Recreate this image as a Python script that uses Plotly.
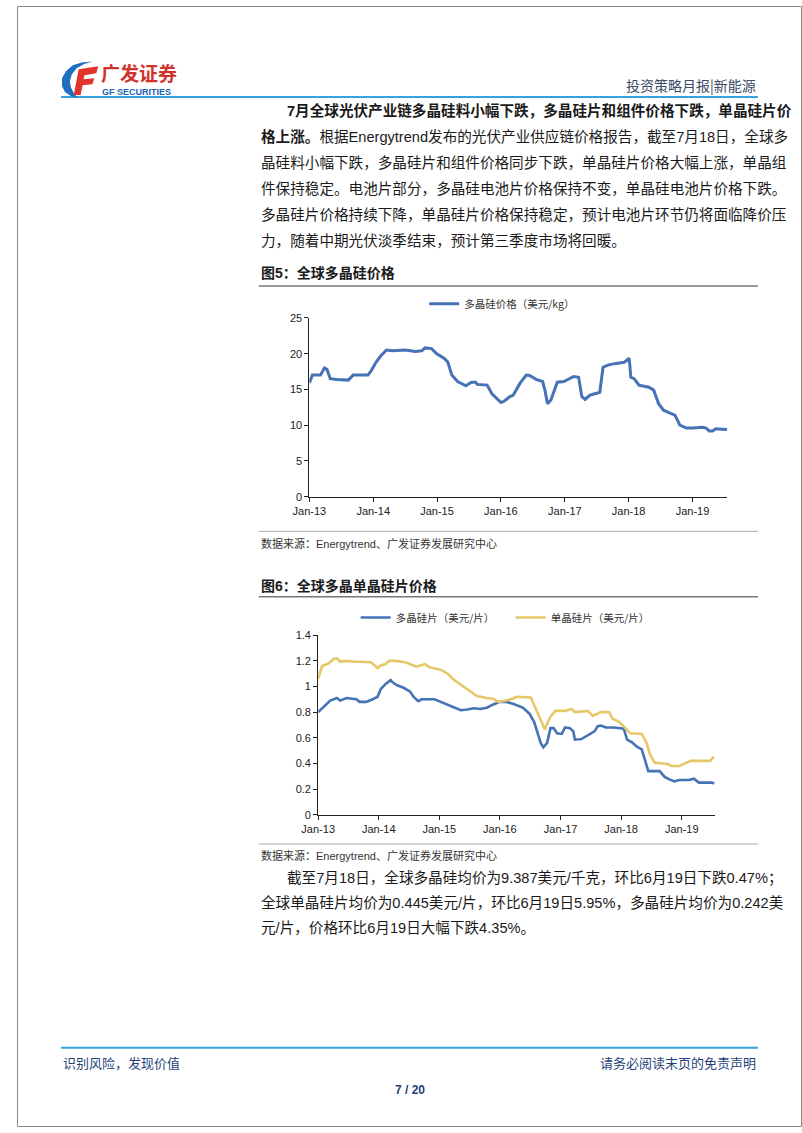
import plotly.graph_objects as go
import pandas as pd

W, H = 802, 1133


def X(p):
    return p / W


def Y(p):
    return 1 - p / H


FONT = "Arial, 'Liberation Sans', 'Noto Sans CJK SC', sans-serif"
CJK = "'Noto Sans CJK SC', Arial, sans-serif"
BLUE = "#4672b6"
GOLD = "#e6c76a"

# ---------------- data (time = years since Jan 2013) ----------------
poly_t = [0.0, 0.046, 0.174, 0.235, 0.276, 0.327, 0.43, 0.532, 0.609, 0.685, 0.916, 0.967,
          1.043, 1.12, 1.207, 1.299, 1.504, 1.657, 1.76, 1.81, 1.913, 1.99, 2.118, 2.169,
          2.23, 2.322, 2.45, 2.537, 2.604, 2.629, 2.783, 2.859, 2.997, 3.038, 3.14, 3.192,
          3.294, 3.396, 3.448, 3.55, 3.652, 3.688, 3.729, 3.78, 3.831, 3.882, 3.985, 4.061,
          4.138, 4.215, 4.266, 4.317, 4.394, 4.471, 4.547, 4.598, 4.675, 4.777, 4.829, 4.931,
          5.008, 5.033, 5.084, 5.161, 5.315, 5.391, 5.468, 5.545, 5.647, 5.724, 5.801, 5.903,
          6.005, 6.159, 6.21, 6.261, 6.312, 6.363, 6.465, 6.542]
poly_v = [15.9, 17.0, 17.0, 18.0, 17.8, 16.5, 16.4, 16.3, 16.3, 17.0, 17.0, 17.6,
          18.8, 19.7, 20.5, 20.4, 20.5, 20.3, 20.4, 20.8, 20.7, 20.0, 19.3, 18.8,
          17.0, 16.1, 15.5, 16.0, 16.0, 15.7, 15.6, 14.4, 13.2, 13.3, 14.0, 14.2,
          15.8, 17.0, 16.95, 16.4, 16.1, 14.9, 13.0, 13.5, 14.7, 16.0, 16.1, 16.5,
          16.8, 16.7, 14.0, 13.6, 14.2, 14.4, 14.6, 18.1, 18.4, 18.6, 18.7, 18.8,
          19.35, 16.7, 16.5, 15.6, 15.3, 14.9, 13.0, 12.1, 11.7, 11.4, 10.0, 9.6,
          9.6, 9.7, 9.6, 9.2, 9.2, 9.5, 9.45, 9.387]

mc_wafer_t = [0, 0.065, 0.118, 0.199, 0.307, 0.361, 0.468, 0.63, 0.684, 0.791, 0.899, 0.98,
              1.033, 1.114, 1.195, 1.222, 1.302, 1.41, 1.518, 1.572, 1.652, 1.706, 1.921, 2.029,
              2.191, 2.352, 2.46, 2.567, 2.675, 2.783, 2.89, 2.998, 3.105, 3.213, 3.375, 3.482,
              3.563, 3.617, 3.671, 3.714, 3.778, 3.832, 3.886, 3.94, 4.02, 4.074, 4.155, 4.209,
              4.236, 4.343, 4.451, 4.559, 4.612, 4.666, 4.747, 4.882, 5.043, 5.097, 5.178, 5.258,
              5.339, 5.393, 5.447, 5.635, 5.716, 5.797, 5.877, 5.958, 6.119, 6.2, 6.281, 6.496, 6.539]
mc_wafer_v = [0.80, 0.83, 0.85, 0.89, 0.91, 0.89, 0.91, 0.90, 0.88, 0.88, 0.90, 0.92,
              0.98, 1.02, 1.05, 1.035, 1.01, 0.99, 0.96, 0.92, 0.885, 0.90, 0.90, 0.88,
              0.85, 0.815, 0.82, 0.83, 0.825, 0.835, 0.86, 0.88, 0.88, 0.865, 0.835, 0.79,
              0.725, 0.65, 0.56, 0.525, 0.56, 0.675, 0.675, 0.635, 0.63, 0.68, 0.675, 0.65,
              0.585, 0.59, 0.62, 0.65, 0.69, 0.695, 0.68, 0.68, 0.67, 0.585, 0.565, 0.53,
              0.51, 0.43, 0.34, 0.34, 0.295, 0.275, 0.26, 0.27, 0.27, 0.28, 0.25, 0.25, 0.242]

mono_wafer_t = [0, 0.065, 0.172, 0.253, 0.307, 0.361, 0.468, 0.576, 0.872, 0.98, 1.033, 1.114,
                1.168, 1.276, 1.437, 1.625, 1.76, 1.841, 2.029, 2.137, 2.244, 2.406, 2.513, 2.621,
                2.783, 2.89, 2.971, 3.052, 3.213, 3.267, 3.509, 3.59, 3.671, 3.741, 3.778, 3.832,
                3.913, 4.074, 4.182, 4.236, 4.451, 4.532, 4.666, 4.801, 4.855, 4.962, 5.07, 5.151,
                5.339, 5.42, 5.474, 5.554, 5.77, 5.824, 5.958, 6.066, 6.146, 6.469, 6.512, 6.539]
mono_wafer_v = [1.06, 1.16, 1.18, 1.215, 1.22, 1.195, 1.20, 1.195, 1.19, 1.145, 1.165, 1.175,
                1.20, 1.20, 1.19, 1.155, 1.175, 1.15, 1.13, 1.10, 1.05, 0.995, 0.96, 0.925,
                0.91, 0.905, 0.88, 0.885, 0.905, 0.92, 0.915, 0.83, 0.75, 0.665, 0.71, 0.765,
                0.81, 0.81, 0.825, 0.80, 0.81, 0.77, 0.80, 0.80, 0.75, 0.725, 0.675, 0.635,
                0.63, 0.56, 0.47, 0.405, 0.395, 0.38, 0.38, 0.405, 0.42, 0.42, 0.445, 0.445]

year_ticks = ["2013-01-01", "2014-01-01", "2015-01-01", "2016-01-01",
              "2017-01-01", "2018-01-01", "2019-01-01"]
year_labels = ["Jan-13", "Jan-14", "Jan-15", "Jan-16", "Jan-17", "Jan-18", "Jan-19"]

para1 = [
    "<b>7月全球光伏产业链多晶硅料小幅下跌，多晶硅片和组件价格下跌，单晶硅片价</b>",
    "<b>格上涨。</b>根据Energytrend发布的光伏产业供应链价格报告，截至7月18日，全球多",
    "晶硅料小幅下跌，多晶硅片和组件价格同步下跌，单晶硅片价格大幅上涨，单晶组",
    "件保持稳定。电池片部分，多晶硅电池片价格保持不变，单晶硅电池片价格下跌。",
    "多晶硅片价格持续下降，单晶硅片价格保持稳定，预计电池片环节仍将面临降价压",
    "力，随着中期光伏淡季结束，预计第三季度市场将回暖。",
]
para2 = [
    "截至7月18日，全球多晶硅均价为9.387美元/千克，环比6月19日下跌0.47%；",
    "全球单晶硅片均价为0.445美元/片，环比6月19日5.95%，多晶硅片均价为0.242美",
    "元/片，价格环比6月19日大幅下跌4.35%。",
]
source_text = "数据来源：Energytrend、广发证券发展研究中心"


def to_dates(ts):
    base = pd.Timestamp("2013-01-01")
    return [base + pd.Timedelta(days=t * 365.25) for t in ts]


fig = go.Figure()
fig.add_trace(go.Scatter(x=to_dates(poly_t), y=poly_v, mode="lines",
                         line=dict(color=BLUE, width=3), name="多晶硅价格（美元/kg）",
                         xaxis="x", yaxis="y", legend="legend", hoverinfo="skip"))
fig.add_trace(go.Scatter(x=to_dates(mc_wafer_t), y=mc_wafer_v, mode="lines",
                         line=dict(color=BLUE, width=2.6), name="多晶硅片（美元/片）",
                         xaxis="x2", yaxis="y2", legend="legend2", hoverinfo="skip"))
fig.add_trace(go.Scatter(x=to_dates(mono_wafer_t), y=mono_wafer_v, mode="lines",
                         line=dict(color=GOLD, width=2.6), name="单晶硅片（美元/片）",
                         xaxis="x2", yaxis="y2", legend="legend2", hoverinfo="skip"))

axis_common = dict(showline=True, linecolor="#222", linewidth=1, ticks="outside",
                   ticklen=4, tickcolor="#222", showgrid=False, zeroline=False,
                   tickfont=dict(family=FONT, size=11, color="#222"), fixedrange=True)

fig.update_layout(
    width=W, height=H, autosize=False,
    margin=dict(l=0, r=0, t=0, b=0),
    paper_bgcolor="white", plot_bgcolor="rgba(0,0,0,0)",
    font=dict(family=FONT, color="#1a1a1a"),
    showlegend=True,
    xaxis=dict(domain=[X(298.7), X(725.5)], range=["2013-01-01", "2019-07-18"], type="date",
               tickvals=year_ticks, ticktext=year_labels, anchor="y", **axis_common),
    yaxis=dict(domain=[Y(496), Y(315.2)], range=[0, 25], dtick=5, tick0=0, anchor="x",
               **axis_common),
    xaxis2=dict(domain=[X(307.7), X(712.7)], range=["2013-01-01", "2019-07-18"], type="date",
                tickvals=year_ticks, ticktext=year_labels, anchor="y2", **axis_common),
    yaxis2=dict(domain=[Y(817.3), Y(636)], range=[0, 1.4], dtick=0.2, tick0=0, anchor="x2",
                **axis_common),
    legend=dict(orientation="h", x=X(416), y=Y(301), xanchor="left", yanchor="middle",
                font=dict(family=CJK, size=10.5, color="#333"), bgcolor="rgba(0,0,0,0)",
                itemwidth=30),
    legend2=dict(orientation="h", x=X(346), y=Y(618), xanchor="left", yanchor="middle",
                 font=dict(family=CJK, size=10.5, color="#333"), bgcolor="rgba(0,0,0,0)",
                 itemwidth=30, entrywidth=110, entrywidthmode="pixels"),
)

shapes = []


def hline(x0, x1, y, color, width):
    shapes.append(dict(type="line", xref="paper", yref="paper", x0=X(x0), x1=X(x1),
                       y0=Y(y), y1=Y(y), line=dict(color=color, width=width)))


# page frame
shapes.append(dict(type="rect", xref="paper", yref="paper", x0=X(0.5), x1=X(801.5),
                   y0=Y(1132.5), y1=Y(0.5), line=dict(color="#8a8a8a", width=1)))
hline(45, 757, 92, "#36a3dd", 2)
hline(45, 757, 1053, "#36a3dd", 2)
hline(247, 757, 283, "#777", 1.5)
hline(247, 757, 531, "#aaa", 1)
hline(247, 757, 597, "#777", 1.5)
hline(247, 757, 847, "#aaa", 1)


def path(points):
    return "M " + " L ".join(f"{X(a):.5f},{Y(b):.5f}" for a, b in points) + " Z"


# logo (blue crescent + red F)
crescent = [(77, 56), (66, 57), (57, 60), (50, 66), (46, 73), (46, 81), (49, 87), (55, 91),
            (62, 93), (58, 88), (55, 82), (54, 76), (56, 69), (61, 63), (68, 59)]
shapes.append(dict(type="path", xref="paper", yref="paper", path=path(crescent),
                   fillcolor="#1f6fc1", line=dict(width=0)))
letter_f = [(63, 64), (83, 61), (81, 68), (69, 70), (68, 74), (79, 73), (77, 79), (67, 80),
            (65, 90), (58, 90)]
shapes.append(dict(type="path", xref="paper", yref="paper", path=path(letter_f),
                   fillcolor="#e1352b", line=dict(width=0)))

annotations = []


def text(s, x, y, size, color="#1a1a1a", anchor="left", family=FONT):
    annotations.append(dict(text=s, x=X(x), y=Y(y), xref="paper", yref="paper",
                            xanchor=anchor, yanchor="middle", showarrow=False,
                            font=dict(family=family, size=size, color=color)))


text("<b>广发证券</b>", 84, 67, 19, "#d1322b", family=CJK)
text("<b>GF SECURITIES</b>", 85, 86.5, 9, "#1b62b3")
text("投资策略月报|新能源", 757, 80, 14, "#3b4a66", anchor="right", family=CJK)

ys1 = [106, 132, 158.5, 185, 211, 237]
for i, (line, yy) in enumerate(zip(para1, ys1)):
    text(line, 274 if i == 0 else 247, yy, 14.6)

text("<b>图5：全球多晶硅价格</b>", 247, 270, 14)
text(source_text, 247, 543, 11, "#333")
text("<b>图6：全球多晶单晶硅片价格</b>", 247, 586, 14)
text(source_text, 247, 859, 11, "#333")

ys2 = [881, 906.5, 932]
for i, (line, yy) in enumerate(zip(para2, ys2)):
    text(line, 274 if i == 0 else 247, yy, 14.6)

text("识别风险，发现价值", 45, 1068, 13, "#1f3f7a", family=CJK)
text("请务必阅读末页的免责声明", 757, 1068, 13, "#1f3f7a", anchor="right", family=CJK)
text("<b>7 / 20</b>", 401, 1096, 12, "#1f3f7a", anchor="center")

fig.update_layout(shapes=shapes, annotations=annotations)
fig.write_html("out.html", config={"displayModeBar": False},
               post_script="document.body.style.margin='0';document.body.style.overflow='hidden';")
